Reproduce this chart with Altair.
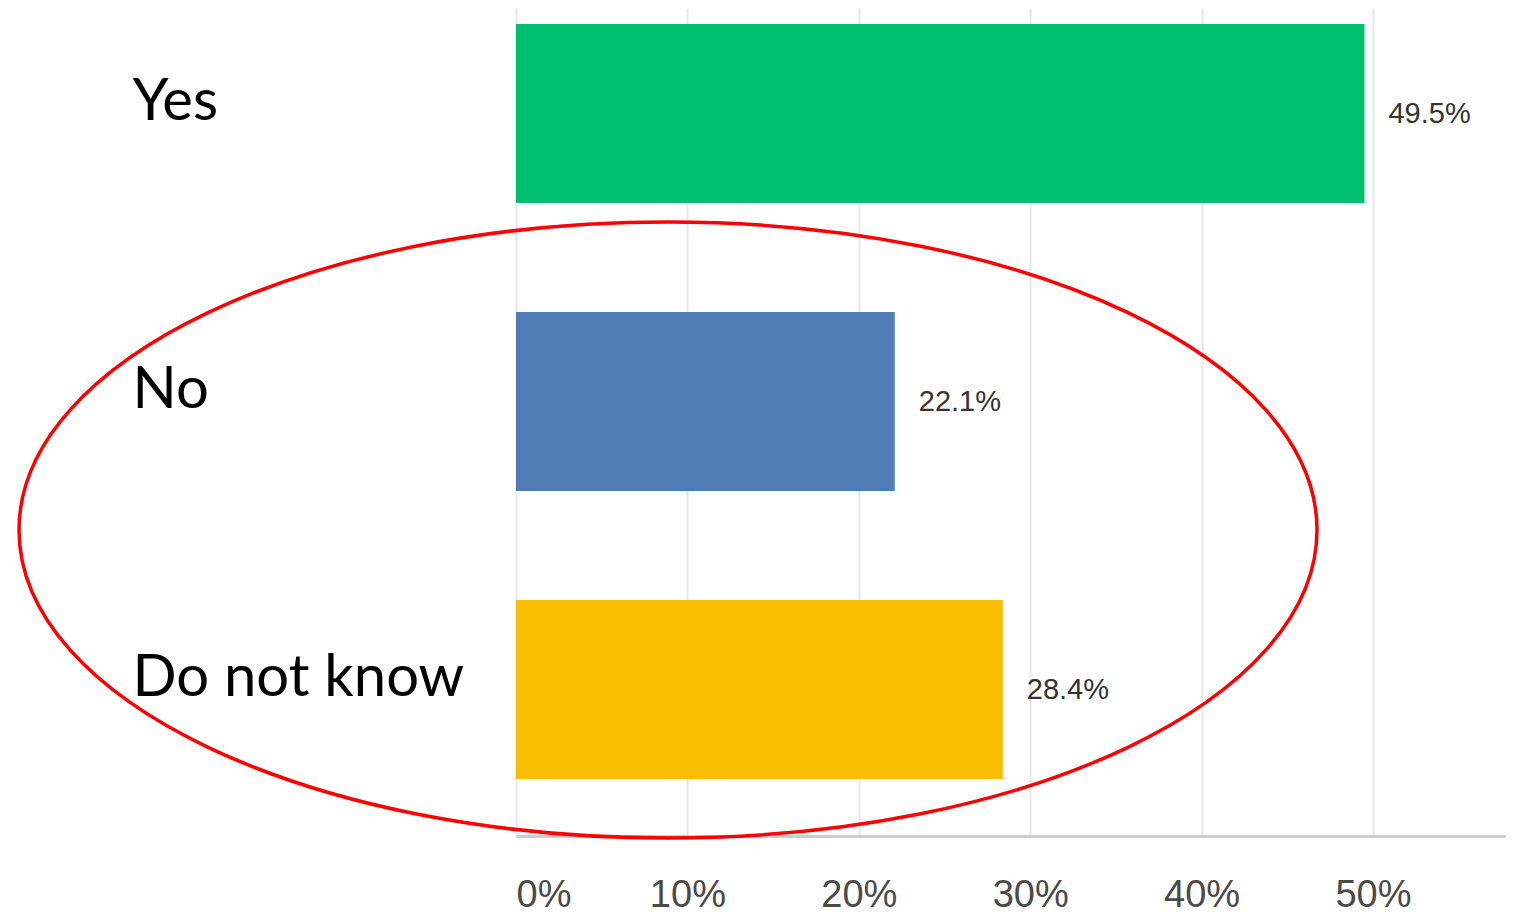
import altair as alt
import pandas as pd

categories = ["Yes", "No", "Do not know"]
values = [49.5, 22.1, 28.4]
value_labels = ["49.5%", "22.1%", "28.4%"]
colors = ["#00BF6F", "#507CB6", "#F9BE00"]
tick_values = [0, 10, 20, 30, 40, 50]

df = pd.DataFrame({"cat": categories, "val": values, "lab": value_labels})

x_scale = alt.Scale(domain=[0, 57.7], nice=False, zero=True)
y_scale = alt.Scale(domain=categories, paddingInner=0.3785, paddingOuter=0.1267, align=0.22)

base = alt.Chart(df)

bars = base.mark_bar().encode(
    x=alt.X("val:Q", scale=x_scale,
            axis=alt.Axis(values=tick_values, labelExpr="datum.value + '%'", title=None,
                          grid=True, gridColor="#e8e8e8", gridWidth=2,
                          ticks=False, tickSize=0,
                          domainColor="#cccccc", domainWidth=3,
                          labelFont="Liberation Sans", labelFontSize=38, labelColor="#4a4a4a",
                          labelPadding=40, labelFlush=True)),
    y=alt.Y("cat:N", scale=y_scale, sort=categories,
            axis=alt.Axis(title=None, ticks=False, domain=False, labelAlign="left",
                          labelPadding=384, labelFontSize=58, labelFont="Lato",
                          labelColor="#000000", labelLimit=0, labelOffset=-11)),
    color=alt.Color("cat:N", scale=alt.Scale(domain=categories, range=colors), legend=None),
)

texts = base.mark_text(align="left", baseline="middle", dx=24, fontSize=29,
                       font="Liberation Sans", color="#333333").encode(
    x=alt.X("val:Q", scale=x_scale),
    y=alt.Y("cat:N", scale=y_scale, sort=categories),
    text="lab:N",
)

ellipse_path = ("M -1 0 C -1 -0.2621 -0.5523 -0.4746 0 -0.4746 "
                "C 0.5523 -0.4746 1 -0.2621 1 0 "
                "C 1 0.2621 0.5523 0.4746 0 0.4746 "
                "C -0.5523 0.4746 -1 0.2621 -1 0 Z")

ellipse = alt.Chart(pd.DataFrame({"k": [0]})).mark_point(
    shape=ellipse_path, filled=False, stroke="#ff0000", strokeWidth=3.5, opacity=1,
    size=1298 * 1298,
).encode(x=alt.value(152), y=alt.value(522))

chart = alt.layer(bars, texts, ellipse).properties(
    width=989, height=828,
    autosize=alt.AutoSizeParams(type="none"),
    padding={"left": 508, "top": 0, "right": 1, "bottom": 77},
    background="white",
).configure_view(stroke=None)

chart.save("out.html", embed_options={"renderer": "svg", "actions": False})
